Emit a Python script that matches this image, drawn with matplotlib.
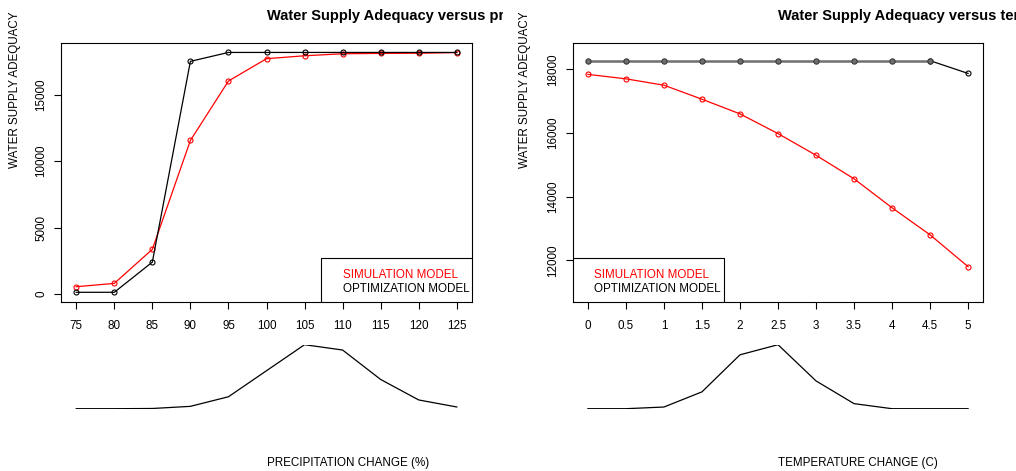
import numpy as np
import matplotlib.pyplot as plt
from matplotlib.patches import Rectangle

plt.rcParams['font.family'] = ['Liberation Sans', 'DejaVu Sans']

W, H = 1016, 471

# precipitation scenario
precip = [75, 80, 85, 90, 95, 100, 105, 110, 115, 120, 125]
sim_precip = [550, 800, 3360, 11550, 16020, 17700, 17920, 18070, 18100, 18110, 18160]
opt_precip = [130, 130, 2400, 17500, 18170, 18170, 18170, 18170, 18170, 18170, 18170]
prob_precip = [0, 0, 0.001, 0.011, 0.056, 0.178, 0.300, 0.275, 0.137, 0.041, 0.008]

# temperature scenario
temp = [0, 0.5, 1, 1.5, 2, 2.5, 3, 3.5, 4, 4.5, 5]
temp_labels = ['0', '0.5', '1', '1.5', '2', '2.5', '3', '3.5', '4', '4.5', '5']
sim_temp = [17840, 17700, 17500, 17060, 16600, 15980, 15300, 14560, 13650, 12800, 11800]
opt_temp = [18270, 18270, 18270, 18270, 18270, 18270, 18270, 18270, 18270, 18270, 17870]
prob_temp = [0, 0, 0.01, 0.10, 0.32, 0.38, 0.165, 0.03, 0, 0, 0]


def px_box(x0, y0, x1, y1):
    # pixel box (top-left origin) -> figure fraction rect
    return [x0 / W, 1 - y1 / H, (x1 - x0) / W, (y1 - y0) / H]


fig = plt.figure(figsize=(W / 100, H / 100), dpi=100)
fs = 8.4


def style_axes(ax):
    for s in ax.spines.values():
        s.set_linewidth(0.8)
        s.set_color('black')
    ax.tick_params(direction='out', length=5, width=0.8, labelsize=fs, colors='black')
    ax.tick_params(axis='x', pad=8)
    ax.tick_params(axis='y', pad=5)
    for lab in ax.get_yticklabels():
        lab.set_rotation(90)
        lab.set_va('center')


def legend_box(ax, x0, x1, y1, tx):
    ax.add_patch(Rectangle((x0, 0), x1 - x0, y1, transform=ax.transAxes,
                           facecolor='white', edgecolor='black', lw=0.8, zorder=4))
    ax.text(tx, 0.104, 'SIMULATION MODEL', color='red', fontsize=fs,
            transform=ax.transAxes, va='center', zorder=5)
    ax.text(tx, 0.050, 'OPTIMIZATION MODEL', color='black', fontsize=fs,
            transform=ax.transAxes, va='center', zorder=5)


mk = dict(marker='o', markersize=3.6, mfc='none', mew=0.8)

# ---- left panel: precipitation
ax1 = fig.add_axes(px_box(61, 43, 472, 302))
ax1.plot(precip, sim_precip, color='red', lw=0.9, mec='red', **mk)
ax1.plot(precip, opt_precip, color='black', lw=0.9, mec='black', **mk)
ax1.set_xlim(73, 127)
ax1.set_ylim(-600, 18880)
ax1.set_xticks(precip)
ax1.set_yticks([0, 5000, 10000, 15000])
style_axes(ax1)
legend_box(ax1, 0.633, 1.0, 0.169, 0.687)

d1 = fig.add_axes(px_box(61, 344.7, 472, 408.7))
d1.plot(precip, prob_precip, color='black', lw=0.9)
d1.set_xlim(73, 127)
d1.set_ylim(0, max(prob_precip))
d1.axis('off')

# ---- right panel: temperature
ax2 = fig.add_axes(px_box(572.7, 42.7, 983.3, 301.7))
ax2.plot(temp, sim_temp, color='red', lw=0.9, mec='red', **mk)
ax2.plot(temp[-2:], opt_temp[-2:], color='black', lw=0.9, mec='black', **mk)
ax2.plot(temp[:-1], opt_temp[:-1], color='#6f6f6f', lw=1.8, marker='o',
         markersize=3.8, mfc='#6f6f6f', mec='#3a3a3a', mew=0.8)
ax2.set_xlim(-0.2, 5.2)
ax2.set_ylim(10700, 18835)
ax2.set_xticks(temp)
ax2.set_xticklabels(temp_labels)
ax2.set_yticks([12000, 14000, 16000, 18000])
style_axes(ax2)
legend_box(ax2, 0.0, 0.3685, 0.1676, 0.0526)

d2 = fig.add_axes(px_box(572.7, 344.7, 983.3, 408.7))
d2.plot(temp, prob_temp, color='black', lw=0.9)
d2.set_xlim(-0.2, 5.2)
d2.set_ylim(0, max(prob_temp))
d2.axis('off')

# titles, clipped to their panel like the original device regions
clip1 = fig.add_axes(px_box(0, 0, 503, H))
clip1.axis('off')
clip1.set_zorder(-1)
clip1.text(267 / 503, 1 - 16 / H, 'Water Supply Adequacy versus precipitation change',
           fontsize=10.5, fontweight='bold', va='center', ha='left',
           transform=clip1.transAxes, clip_on=True)
fig.text(778 / W, 1 - 16 / H, 'Water Supply Adequacy versus temperature change',
         fontsize=10.5, fontweight='bold', va='center', ha='left')

# axis labels
for xc in (15, 525):
    fig.text(xc / W, 1 - 89.5 / H, 'WATER SUPPLY ADEQUACY', rotation=90,
             fontsize=fs, va='center', ha='center')
fig.text(267 / W, 1 - 463 / H, 'PRECIPITATION CHANGE (%)', fontsize=fs,
         va='center', ha='left')
fig.text(778 / W, 1 - 463 / H, 'TEMPERATURE CHANGE (C)', fontsize=fs,
         va='center', ha='left')

fig.savefig('out.png', dpi=100)
